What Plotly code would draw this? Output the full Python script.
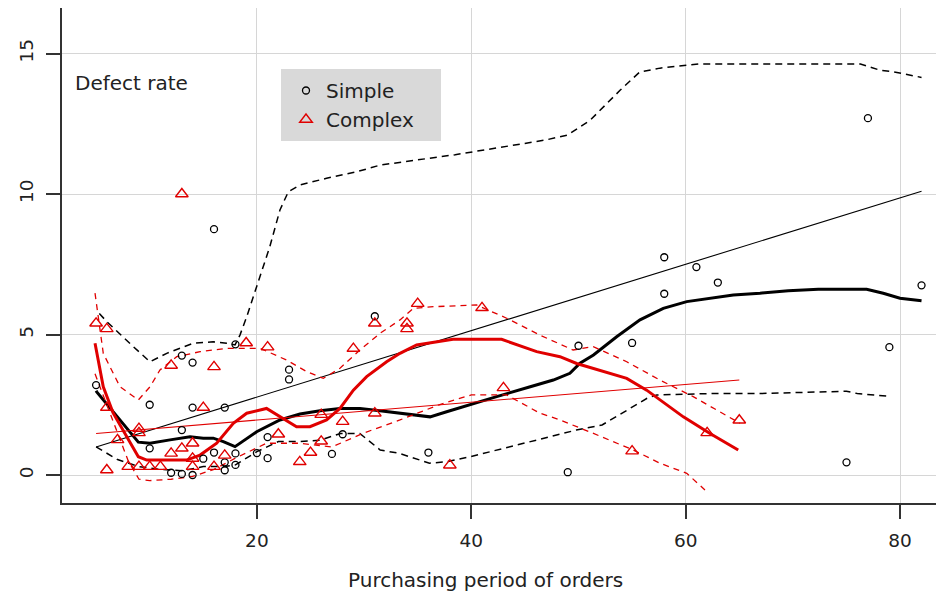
import plotly.graph_objects as go

# ---------------- data ----------------
simple_x = [5, 10, 10, 12, 13, 13, 13, 14, 14, 14, 15, 16, 16, 17, 17, 17, 18, 18, 18, 20, 21, 21,
            23, 23, 27, 28, 31, 36, 49, 50, 55, 58, 58, 61, 63, 75, 77, 79, 82]
simple_y = [3.2, 2.5, 0.95, 0.08, 4.25, 1.6, 0.04, 4.0, 2.4, 0.0, 0.58, 8.75, 0.8, 2.4, 0.45, 0.17, 4.65, 0.77, 0.36, 0.78, 1.35, 0.6,
            3.75, 3.4, 0.75, 1.45, 5.65, 0.8, 0.1, 4.6, 4.7, 7.75, 6.45, 7.4, 6.85, 0.45, 12.7, 4.55, 6.75]

complex_x = [5, 6, 6, 6, 7, 8, 9, 9, 9, 10, 11, 12, 12, 13, 13, 14, 14, 14, 15, 16, 16, 17, 19, 21,
             22, 24, 25, 26, 26, 28, 29, 31, 31, 34, 34, 35, 38, 41, 43, 55, 62, 65]
complex_y = [5.4, 5.2, 2.4, 0.18, 1.25, 0.3, 1.65, 1.5, 0.3, 0.3, 0.3, 3.9, 0.77, 10.0, 0.95, 1.13, 0.59, 0.3, 2.4, 3.85, 0.3, 0.7, 4.7, 4.55,
             1.45, 0.47, 0.8, 2.15, 1.2, 1.9, 4.5, 5.4, 2.2, 5.4, 5.2, 6.1, 0.35, 5.95, 3.1, 0.85, 1.5, 1.95]

# smooth (loess) curve, simple
simple_fit_x = [5.0, 5.06, 8.94, 10.03, 11.9, 13.76, 15.0, 15.93, 16.87, 17.96, 19.98, 22.15, 24.02, 25.89, 27.75, 29.62,
                31.48, 33.35, 34.6, 36.15, 37.7, 39.88, 42.37, 45.5, 47.65, 49.2, 50.14, 51.4, 53.56, 55.74, 57.91,
                60.1, 62.27, 64.44, 66.93, 69.57, 72.37, 76.88, 78.43, 79.99, 82.0]
simple_fit_y = [3.0, 2.96, 1.17, 1.13, 1.25, 1.36, 1.31, 1.31, 1.19, 1.01, 1.54, 1.96, 2.17, 2.29, 2.37, 2.37,
                2.29, 2.2, 2.14, 2.07, 2.25, 2.49, 2.79, 3.14, 3.38, 3.62, 3.98, 4.27, 4.92, 5.52, 5.93,
                6.17, 6.29, 6.41, 6.47, 6.56, 6.61, 6.61, 6.47, 6.29, 6.2]
simple_upper_x = [5.3, 5.99, 8.47, 10.03, 11.59, 12.83, 14.07, 15.93, 17.18, 17.96, 18.42, 19.05, 20.29, 21.2, 22.15,
                  22.93, 24.0, 26.5, 29.3, 31.5, 38.5, 42.7, 46.9, 49.0, 51.1, 53.9, 55.7, 57.6, 61.3, 68.8, 76.3,
                  78.1, 79.4, 82.0]
simple_upper_y = [5.75, 5.46, 4.57, 4.03, 4.33, 4.51, 4.69, 4.74, 4.69, 4.63, 4.98, 5.63, 7.06, 8.12, 9.43,
                  10.08, 10.32, 10.56, 10.79, 11.03, 11.4, 11.67, 11.92, 12.1, 12.63, 13.7, 14.34, 14.48, 14.63, 14.63, 14.63,
                  14.41, 14.35, 14.15]
simple_lower_x = [5.0, 7.0, 9.0, 11.0, 13.0, 15.0, 17.0, 18.0, 20.0, 22.0, 24.0, 25.9, 27.8, 29.6, 31.5, 33.3,
                  36.1, 37.7, 39.9, 42.4, 45.5, 48.0, 49.8, 52.2, 54.5, 56.4, 57.3, 59.4, 62.5, 67.0, 75.0, 76.0, 79.0]
simple_lower_y = [1.0, 0.55, 0.3, 0.2, 0.15, 0.3, 0.3, 0.36, 0.83, 1.19, 1.19, 1.24, 1.48, 1.48, 0.89, 0.77,
                  0.42, 0.47, 0.65, 0.89, 1.19, 1.42, 1.6, 1.78, 2.31, 2.73, 2.85, 2.88, 2.9, 2.9, 2.98, 2.9, 2.8]

simple_lm_x = [5, 82]
simple_lm_y = [1.0, 10.1]

# smooth (loess) curve, complex
complex_fit_x = [4.9, 5.67, 6.6, 7.85, 8.94, 9.72, 13.45, 14.7, 16.25, 17.8, 19.05, 20.9, 22.15, 23.7, 24.95, 26.5,
                 27.75, 29.0, 30.24, 32.1, 33.35, 34.9, 38.3, 42.83, 46.1, 48.27, 49.83, 51.38, 54.5, 56.36, 59.78,
                 62.27, 64.9]
complex_fit_y = [4.69, 3.14, 2.2, 1.36, 0.65, 0.53, 0.53, 0.71, 1.13, 1.84, 2.2, 2.37, 2.07, 1.72, 1.72, 1.96,
                 2.37, 3.02, 3.5, 4.03, 4.33, 4.63, 4.83, 4.83, 4.39, 4.21, 3.97, 3.8, 3.44, 3.02, 2.07,
                 1.48, 0.89]
complex_upper_x = [4.9, 5.67, 7.23, 8.94, 10.03, 10.96, 12.52, 14.7, 17.18, 20.29, 22.78, 24.65, 26.2, 27.75, 29.62,
                   31.48, 33.35, 34.6, 36.46, 40.5, 43.3, 46.4, 49.5, 51.38, 54.5, 57.6, 60.7, 63.2, 65.07]
complex_upper_y = [6.47, 4.33, 3.14, 2.67, 3.14, 3.74, 4.21, 4.39, 4.51, 4.51, 4.09, 3.68, 3.44, 3.8, 4.45,
                   5.04, 5.52, 5.93, 5.99, 6.05, 5.58, 4.98, 4.45, 4.57, 4.03, 3.38, 2.79, 2.25, 1.84]
complex_lower_x = [4.9, 6.0, 7.0, 8.0, 9.0, 10.0, 12.0, 14.0, 16.0, 18.0, 20.9, 24.0, 27.0, 30.0, 33.35, 37.0,
                   40.0, 43.3, 46.4, 48.27, 51.4, 55.1, 57.6, 60.1, 61.8]
complex_lower_y = [3.6, 2.5, 1.5, 0.5, -0.15, -0.2, -0.15, -0.05, 0.2, 0.6, 1.13, 1.13, 1.0, 1.5, 1.96, 2.5,
                   2.85, 2.85, 2.2, 1.96, 1.48, 0.89, 0.42, 0.06, -0.53]

complex_lm_x = [5, 65]
complex_lm_y = [1.48, 3.38]

x_ticks = [20, 40, 60, 80]
y_ticks = [0, 5, 10, 15]
series_names = ["Simple", "Complex"]
x_label = "Purchasing period of orders"
y_label = "Defect rate"

# ---------------- figure ----------------
FONT = "DejaVu Sans"
TXT = "#222222"
RED = "#e00000"

fig = go.Figure()

def add_line(x, y, color, width, dash="solid"):
    fig.add_trace(go.Scatter(x=x, y=y, mode="lines", showlegend=False, hoverinfo="skip",
                             line=dict(color=color, width=width, dash=dash)))

add_line(simple_upper_x, simple_upper_y, "black", 1.5, "7px,5px")
add_line(simple_lower_x, simple_lower_y, "black", 1.5, "7px,5px")
add_line(simple_lm_x, simple_lm_y, "black", 1.1)
add_line(simple_fit_x, simple_fit_y, "black", 3)
add_line(complex_upper_x, complex_upper_y, RED, 1.3, "6px,5px")
add_line(complex_lower_x, complex_lower_y, RED, 1.3, "6px,5px")
add_line(complex_lm_x, complex_lm_y, RED, 1.1)
add_line(complex_fit_x, complex_fit_y, RED, 3)

fig.add_trace(go.Scatter(x=simple_x, y=simple_y, mode="markers", name=series_names[0],
                         marker=dict(symbol="circle-open", size=7, color="black", line=dict(width=1.3))))
fig.add_trace(go.Scatter(x=complex_x, y=complex_y, mode="markers", name=series_names[1],
                         marker=dict(symbol="triangle-up-open", size=11, color=RED, line=dict(width=1.4))))

W, H = 936, 594
L, R, T, B = 62, 0, 8, 91
pw, ph = W - L - R, H - T - B

def px_x(p):
    return (p - L) / pw

def px_y(p):
    return (H - B - p) / ph

axis_common = dict(ticks="outside", ticklen=14, tickwidth=1.5, tickcolor="#333", showline=True,
                   linecolor="#333", linewidth=1.5, mirror=False, showgrid=True, gridcolor="#d6d6d6",
                   gridwidth=1, zeroline=False, automargin=False,
                   tickfont=dict(size=18.5, color=TXT, family=FONT), ticklabelstandoff=6)

fig.update_layout(
    width=W, height=H,
    margin=dict(l=L, r=R, t=T, b=B, pad=0),
    plot_bgcolor="white", paper_bgcolor="white",
    font=dict(family=FONT, size=20, color=TXT),
    xaxis=dict(range=[1.82, 83.35], tickvals=x_ticks, **axis_common),
    yaxis=dict(range=[-0.996, 16.62], tickvals=y_ticks, tickangle=-90, **axis_common),
    showlegend=True,
    legend=dict(x=px_x(286), y=px_y(71), xanchor="left", yanchor="top", bgcolor="rgba(0,0,0,0)",
                font=dict(size=20, color=TXT, family=FONT), tracegroupgap=0, itemwidth=30),
    shapes=[dict(type="rect", xref="paper", yref="paper", x0=px_x(281), x1=px_x(441),
                 y0=px_y(141), y1=px_y(69), fillcolor="#d9d9d9", line=dict(width=0), layer="below")],
    annotations=[
        dict(text=x_label, xref="paper", yref="paper", x=px_x(485), y=px_y(580), showarrow=False,
             xanchor="center", yanchor="middle", font=dict(size=20, color=TXT, family=FONT)),
        dict(text=y_label, xref="paper", yref="paper", x=px_x(73), y=px_y(83), showarrow=False,
             xanchor="left", yanchor="middle", font=dict(size=20, color=TXT, family=FONT)),
    ],
)

fig.write_html("out.html", config={"displayModeBar": False},
               post_script="document.body.style.margin='0';document.body.style.padding='0';"
                           "document.documentElement.style.overflow='hidden';")
